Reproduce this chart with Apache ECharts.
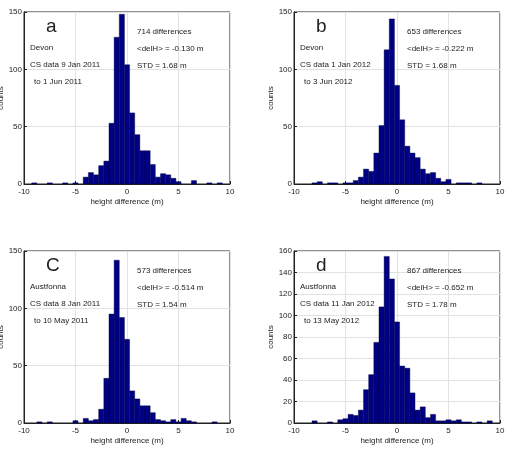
<!DOCTYPE html>
<html>
<head>
<meta charset="utf-8">
<script src="https://cdn.jsdelivr.net/npm/echarts@6/dist/echarts.min.js"></script>
<style>
  html, body { margin: 0; padding: 0; background: #fff; }
  #chart { width: 526px; height: 451px; }
</style>
</head>
<body>
<div id="chart"></div>
<script>
// bin centres (m) and counts for each panel, bin width 0.5 m
const binsA = [-9, -7.5, -6, -5, -4, -3.5, -3, -2.5, -2, -1.5, -1, -0.5, 0, 0.5, 1, 1.5, 2, 2.5, 3, 3.5, 4, 4.5, 5, 6.5, 8, 9];
const countsA = [1, 1, 1, 1, 6, 10, 8, 16, 20, 53, 128, 148, 104, 62, 43, 29, 29, 17, 6, 9, 8, 5, 2, 3, 1, 1];

const binsB = [-8, -7.5, -6.5, -6, -5, -4.5, -4, -3.5, -3, -2.5, -2, -1.5, -1, -0.5, 0, 0.5, 1, 1.5, 2, 2.5, 3, 3.5, 4, 4.5, 5, 6, 6.5, 7, 8];
const countsB = [1, 2, 1, 1, 1, 1, 3, 6, 13, 11, 27, 51, 117, 144, 86, 56, 33, 27, 23, 13, 9, 10, 5, 2, 4, 1, 1, 1, 1];

const binsC = [-8.5, -7.5, -5, -4, -3.5, -3, -2.5, -2, -1.5, -1, -0.5, 0, 0.5, 1, 1.5, 2, 2.5, 3, 3.5, 4, 4.5, 5, 5.5, 6, 6.5, 8.5];
const countsC = [1, 1, 2, 4, 2, 3, 12, 39, 95, 142, 92, 73, 28, 21, 15, 15, 9, 3, 2, 1, 3, 1, 4, 2, 1, 1];

const binsD = [-8, -6.5, -5.5, -5, -4.5, -4, -3.5, -3, -2.5, -2, -1.5, -1, -0.5, 0, 0.5, 1, 1.5, 2, 2.5, 3, 3.5, 4, 4.5, 5, 5.5, 6, 6.5, 7, 8, 9];
const countsD = [2, 1, 3, 4, 8, 7, 12, 31, 45, 75, 108, 155, 134, 94, 53, 51, 28, 12, 15, 5, 8, 2, 2, 3, 2, 3, 1, 1, 1, 2];

const panels = [
  { bins: binsA, counts: countsA, ymax: 150, yint: 50, letter: 'a',
    site: 'Devon', from: 'CS data 9 Jan 2011', to: 'to 1 Jun 2011',
    n: '714 differences', mean: '<delH> = -0.130 m', std: 'STD = 1.68 m' },
  { bins: binsB, counts: countsB, ymax: 150, yint: 50, letter: 'b',
    site: 'Devon', from: 'CS data 1 Jan 2012', to: 'to 3 Jun 2012',
    n: '653 differences', mean: '<delH> = -0.222 m', std: 'STD = 1.68 m' },
  { bins: binsC, counts: countsC, ymax: 150, yint: 50, letter: 'C',
    site: 'Austfonna', from: 'CS data 8 Jan 2011', to: 'to 10 May 2011',
    n: '573 differences', mean: '<delH> = -0.514 m', std: 'STD = 1.54 m' },
  { bins: binsD, counts: countsD, ymax: 160, yint: 20, letter: 'd',
    site: 'Austfonna', from: 'CS data 11 Jan 2012', to: 'to 13 May 2012',
    n: '867 differences', mean: '<delH> = -0.652 m', std: 'STD = 1.78 m' }
];

const BIN = 0.5;
const BAR_COLOR = '#000084';
const FONT = 'Liberation Sans, Arial, sans-serif';

// grid boxes: [left, top]
const boxes = [[24, 12], [294, 12], [24, 251], [294, 251]];
const W = 206, H = 172;

const chart = echarts.init(document.getElementById('chart'), null, { renderer: 'canvas' });

const grid = [], xAxis = [], yAxis = [], series = [], graphic = [];

panels.forEach((p, i) => {
  const [l, t] = boxes[i];
  grid.push({
    left: l, top: t, width: W, height: H,
    containLabel: false, outerBoundsMode: 'none',
    show: true, borderColor: '#222', borderWidth: 1, backgroundColor: '#fff'
  });
  xAxis.push({
    type: 'value', gridIndex: i, min: -10, max: 10, interval: 5,
    name: 'height difference (m)', nameLocation: 'middle', nameGap: 14,
    nameTextStyle: { fontFamily: FONT, fontSize: 8, color: '#222' },
    axisLine: { show: true, onZero: false, lineStyle: { color: '#222', width: 1 } },
    axisTick: { show: true, inside: true, length: 3, lineStyle: { color: '#222' } },
    axisLabel: { fontFamily: FONT, fontSize: 8, color: '#222', margin: 4 },
    splitLine: { show: true, lineStyle: { color: '#e2e2e2', width: 1 } }
  });
  yAxis.push({
    type: 'value', gridIndex: i, min: 0, max: p.ymax, interval: p.yint,
    name: 'counts', nameLocation: 'middle', nameGap: 18, nameRotate: 90,
    nameTextStyle: { fontFamily: FONT, fontSize: 8, color: '#222' },
    axisLine: { show: true, onZero: false, lineStyle: { color: '#222', width: 1 } },
    axisTick: { show: true, inside: true, length: 3, lineStyle: { color: '#222' } },
    axisLabel: { fontFamily: FONT, fontSize: 8, color: '#222', margin: 2 },
    splitLine: { show: true, lineStyle: { color: '#e2e2e2', width: 1 } }
  });
  series.push({
    type: 'custom', xAxisIndex: i, yAxisIndex: i,
    data: p.bins.map((b, k) => [b, p.counts[k]]),
    encode: { x: 0, y: 1 },
    renderItem: function (params, api) {
      const x = api.value(0), y = api.value(1);
      const p0 = api.coord([x - BIN / 2, y]);
      const p1 = api.coord([x + BIN / 2, 0]);
      return {
        type: 'rect',
        shape: { x: p0[0], y: p0[1], width: p1[0] - p0[0], height: p1[1] - p0[1] },
        style: { fill: BAR_COLOR, stroke: '#00003a', lineWidth: 0.4 }
      };
    }
  });

  const txt = (x, y, s, size) => ({
    type: 'text', x: x, y: y, z: 10,
    style: { text: s, fontFamily: FONT, fontSize: size || 8, fill: '#222', verticalAlign: 'middle', align: 'left' }
  });
  graphic.push(txt(l + 22, t + 15, p.letter, 19));
  graphic.push(txt(l + 6, t + 36, p.site));
  graphic.push(txt(l + 6, t + 53, p.from));
  graphic.push(txt(l + 10, t + 70, p.to));
  graphic.push(txt(l + 113, t + 20, p.n));
  graphic.push(txt(l + 113, t + 37, p.mean));
  graphic.push(txt(l + 113, t + 54, p.std));
});

chart.setOption({
  animation: false,
  backgroundColor: '#fff',
  grid: grid,
  xAxis: xAxis,
  yAxis: yAxis,
  series: series,
  graphic: graphic
});
</script>
</body>
</html>
